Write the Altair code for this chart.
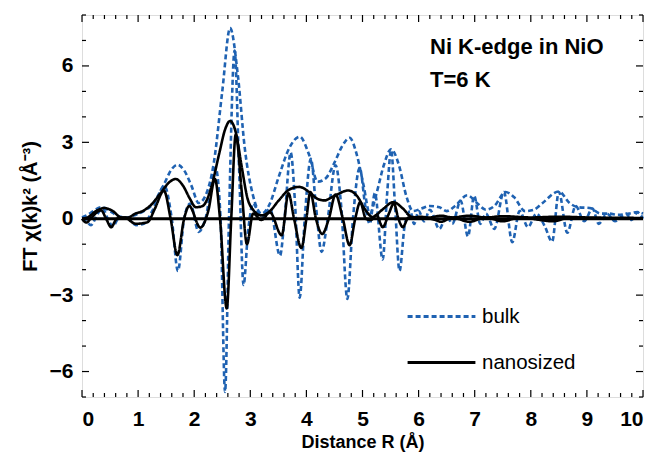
import altair as alt
import pandas as pd

# ---- data (R in Angstrom, FT value) ----
bulk_mod_r = [0.0, 0.1, 0.2, 0.35, 0.5, 0.65, 0.8, 0.95, 1.1, 1.25, 1.45, 1.6, 1.7, 1.82, 1.95, 2.08,
              2.2, 2.35, 2.5, 2.64, 2.78, 2.9, 3.05, 3.2, 3.35, 3.5, 3.7, 3.88, 4.05, 4.2, 4.35, 4.5,
              4.65, 4.77, 4.9, 5.02, 5.13, 5.25, 5.38, 5.51, 5.65, 5.78, 5.9, 6.05, 6.2, 6.37, 6.5,
              6.65, 6.87, 7.05, 7.2, 7.35, 7.55, 7.7, 7.9, 8.05, 8.2, 8.5, 8.7, 8.85, 9.05, 9.25,
              9.4, 9.55, 9.75, 9.9, 10.0]
bulk_mod_v = [0.05, 0.15, 0.3, 0.45, 0.3, 0.1, 0.05, 0.15, 0.3, 0.55, 1.3, 1.95, 2.12, 1.9, 1.3, 0.62,
              0.9, 2.2, 5.0, 7.49, 5.6, 2.8, 0.9, 0.2, 0.6, 1.6, 2.8, 3.22, 2.5, 1.45, 1.6, 2.2,
              2.9, 3.18, 2.5, 1.3, 0.2, 1.0, 2.1, 2.73, 2.1, 0.9, 0.3, 0.4, 0.5, 0.45, 0.3,
              0.5, 0.92, 0.6, 0.35, 0.5, 1.05, 0.85, 0.3, 0.35, 0.6, 1.07, 0.6, 0.45, 0.42, 0.2,
              0.2, 0.15, 0.2, 0.26, 0.2]

bulk_im_r = [0.0, 0.08, 0.16, 0.28, 0.37, 0.46, 0.55, 0.65, 0.8, 0.96, 1.1, 1.25, 1.47, 1.6, 1.71,
             1.82, 1.93, 2.08, 2.2, 2.38, 2.47, 2.55, 2.62, 2.72, 2.8, 2.88, 2.96, 3.05, 3.2, 3.35,
             3.53, 3.61, 3.72, 3.8, 3.88, 3.97, 4.08, 4.17, 4.27, 4.38, 4.52, 4.62, 4.73, 4.83,
             4.95, 5.05, 5.13, 5.22, 5.36, 5.44, 5.51, 5.58, 5.66, 5.75, 5.85, 5.92, 6.0, 6.1,
             6.2, 6.37, 6.5, 6.6, 6.75, 6.88, 6.99, 7.1, 7.2, 7.35, 7.52, 7.67, 7.8, 7.95, 8.1,
             8.25, 8.38, 8.5, 8.65, 8.8, 8.95, 9.1, 9.21, 9.36, 9.5, 9.7, 9.8, 9.9, 10.0]
bulk_im_v = [0.0, -0.1, -0.25, 0.2, 0.4, 0.0, -0.3, 0.0, 0.05, -0.25, -0.2, 0.3, 1.28, 0.0, -2.05,
             0.0, 0.6, -0.52, 0.0, 2.0, 0.0, -6.8, 0.0, 6.6, 2.0, -2.6, -0.5, 0.6, 0.0, 0.4,
             -1.45, 0.0, 2.6, 0.5, -3.1, 0.0, 2.35, 0.5, -1.3, 0.0, 2.1, 0.5, -3.15, 0.0,
             2.0, 0.5, -0.2, 1.0, -1.6, 1.0, 2.7, 0.5, -2.05, -0.3, 0.3, -0.2, 0.3, -0.1,
             0.35, -0.4, 0.1, -0.2, 0.7, -0.7, 0.9, -0.2, 0.2, -0.4, 1.05, -0.92, 0.3, -0.33, 0.2,
             -0.3, -0.9, 1.05, -0.55, 0.5, -0.1, 0.4, -0.2, 0.2, -0.1, 0.2, -0.05, 0.25, 0.0]

nano_mod_r = [0.0, 0.1, 0.25, 0.4, 0.55, 0.7, 0.82, 0.95, 1.08, 1.22, 1.4, 1.55, 1.67, 1.8, 1.92,
              2.03, 2.15, 2.3, 2.45, 2.55, 2.64, 2.74, 2.85, 2.95, 3.05, 3.2, 3.35, 3.5, 3.7,
              3.87, 4.05, 4.2, 4.32, 4.5, 4.75, 4.9, 5.05, 5.18, 5.35, 5.55, 5.72, 5.87, 6.0,
              6.2, 6.4, 6.6, 6.9, 7.2, 7.5, 8.0, 8.5, 9.0, 10.0]
nano_mod_v = [0.0, 0.05, 0.3, 0.42, 0.3, 0.05, 0.05, 0.2, 0.3, 0.52, 1.0, 1.42, 1.56, 1.3, 0.8,
              0.45, 0.5, 1.2, 2.6, 3.5, 3.84, 3.4, 2.0, 0.8, 0.35, 0.13, 0.3, 0.7, 1.15,
              1.25, 1.05, 0.78, 0.72, 0.9, 1.11, 0.9, 0.35, 0.07, 0.35, 0.65, 0.4, 0.08, 0.05,
              0.05, 0.12, 0.05, 0.12, 0.05, 0.1, 0.05, 0.08, 0.05, 0.03]

nano_im_r = [0.0, 0.08, 0.15, 0.34, 0.43, 0.52, 0.62, 0.75, 0.96, 1.17, 1.3, 1.46, 1.58, 1.7, 1.82,
             1.91, 2.11, 2.25, 2.37, 2.46, 2.58, 2.66, 2.74, 2.85, 2.94, 3.05, 3.2, 3.35, 3.56,
             3.68, 3.78, 3.91, 4.0, 4.07, 4.17, 4.28, 4.4, 4.52, 4.65, 4.77, 4.87, 4.96, 5.06,
             5.15, 5.25, 5.36, 5.47, 5.56, 5.64, 5.72, 5.82, 5.9, 6.0, 6.3, 6.4, 6.6, 6.9, 7.2,
             7.5, 7.8, 8.4, 8.7, 9.5, 10.0]
nano_im_v = [0.0, -0.15, 0.0, 0.33, 0.0, -0.33, 0.0, 0.05, -0.2, -0.13, 0.4, 1.1, 0.0, -1.43, 0.0,
             0.5, -0.35, 0.3, 1.56, 0.0, -3.52, 0.0, 3.3, 1.0, -1.0, 0.2, -0.05, 0.25, -0.65,
             1.0, 0.0, -1.15, 0.0, 1.05, 0.0, -0.6, 0.0, 0.95, 0.0, -1.04, 0.0, 0.65, 0.0,
             -0.05, 0.15, -0.33, 0.2, 0.6, 0.0, -0.33, 0.05, 0.0, 0.08, -0.05, -0.12, 0.05, -0.12, 0.05,
             -0.1, 0.05, -0.1, 0.05, 0.0, 0.0]

samples = ["bulk", "nanosized"]
x_major = [0, 1, 2, 3, 4, 5, 6, 7, 8, 9, 10]
x_minor = [round(i * 0.2, 1) for i in range(51) if i % 5 != 0]
y_major = [-6, -3, 0, 3, 6]
y_minor = [-7, -5, -4, -2, -1, 1, 2, 4, 5, 7, 8]

# ---- build long table ----
rows = []
for name, part, rr, vv in [("bulk", "mod", bulk_mod_r, bulk_mod_v),
                           ("bulk", "im", bulk_im_r, bulk_im_v),
                           ("nanosized", "mod", nano_mod_r, nano_mod_v),
                           ("nanosized", "im", nano_im_r, nano_im_v)]:
    for i, (r, v) in enumerate(zip(rr, vv)):
        rows.append({"R": r, "FT": v, "sample": name, "part": part, "order": i})
df = pd.DataFrame(rows)

W, H = 561, 382
BLUE = "#1f62b2"
FONT = "Liberation Sans"

xs = alt.Scale(domain=[0, 10], nice=False, zero=False)
ys = alt.Scale(domain=[-7, 8], nice=False, zero=False)

leg = dict(title=None, orient="none", legendX=324, legendY=266,
           symbolType="stroke", symbolSize=4600, symbolStrokeWidth=3,
           labelFontSize=20.5, labelFont=FONT, labelOffset=5,
           rowPadding=-12, padding=0, labelColor="black")

lines = alt.Chart(df).mark_line(interpolate="monotone", strokeWidth=2.6).encode(
    x=alt.X("R:Q", scale=xs,
            axis=alt.Axis(title="Distance R (Å)", values=x_major, format="d", ticks=False,
                          domain=False, grid=False, labelFontSize=21, labelFontWeight="bold",
                          labelFont=FONT, labelPadding=11, titleFontSize=18, titleFont=FONT,
                          titleFontWeight="bold", titlePadding=4, labelColor="black",
                          titleColor="black")),
    y=alt.Y("FT:Q", scale=ys,
            axis=alt.Axis(title="FT χ(k)k² (Å⁻³)", values=y_major, format="d", ticks=False,
                          domain=False, grid=False, labelFontSize=21, labelFontWeight="bold",
                          labelFont=FONT, labelPadding=9, titleFontSize=20, titleFont=FONT,
                          titleFontWeight="bold", titlePadding=9, labelColor="black",
                          titleColor="black")),
    color=alt.Color("sample:N", scale=alt.Scale(domain=samples, range=[BLUE, "black"]),
                    legend=alt.Legend(**leg)),
    strokeDash=alt.StrokeDash("sample:N", scale=alt.Scale(domain=samples, range=[[5, 3], [1, 0]]),
                              legend=alt.Legend(**leg)),
    detail="part:N",
    order="order:Q",
)

zero = alt.Chart(pd.DataFrame({"y": [0]})).mark_rule(color="black", strokeWidth=2.8).encode(
    y=alt.Y("y:Q", scale=ys))

xmaj = pd.DataFrame({"x": x_major})
xmin = pd.DataFrame({"x": x_minor})
ymaj = pd.DataFrame({"y": y_major})
ymin = pd.DataFrame({"y": y_minor})

def xticks(d, ln):
    b = alt.Chart(d).mark_rule(color="black", strokeWidth=1.2).encode(
        x=alt.X("x:Q", scale=xs), y=alt.value(H), y2=alt.value(H - ln))
    t = alt.Chart(d).mark_rule(color="black", strokeWidth=1.2).encode(
        x=alt.X("x:Q", scale=xs), y=alt.value(0), y2=alt.value(ln))
    return [b, t]

def yticks(d, ln):
    l = alt.Chart(d).mark_rule(color="black", strokeWidth=1.2).encode(
        y=alt.Y("y:Q", scale=ys), x=alt.value(0), x2=alt.value(ln))
    r = alt.Chart(d).mark_rule(color="black", strokeWidth=1.2).encode(
        y=alt.Y("y:Q", scale=ys), x=alt.value(W), x2=alt.value(W - ln))
    return [l, r]

label = alt.Chart(pd.DataFrame({"t": [["Ni K-edge in NiO", "T=6 K"]]})).mark_text(
    align="left", baseline="top", font=FONT, fontSize=22, fontWeight="bold",
    lineHeight=33, color="black").encode(text="t", x=alt.value(348), y=alt.value(22))

layers = [lines, zero] + xticks(xmaj, 7) + xticks(xmin, 4) + yticks(ymaj, 7) + yticks(ymin, 4) + [label]

chart = alt.layer(*layers).properties(
    width=W, height=H,
    padding={"left": 82, "top": 15, "right": 17, "bottom": 61},
    autosize=alt.AutoSizeParams(type="none"),
).configure_view(stroke="black", strokeWidth=1.6).configure(background="white")

chart.save("out.html", embed_options={"renderer": "svg", "actions": False})
